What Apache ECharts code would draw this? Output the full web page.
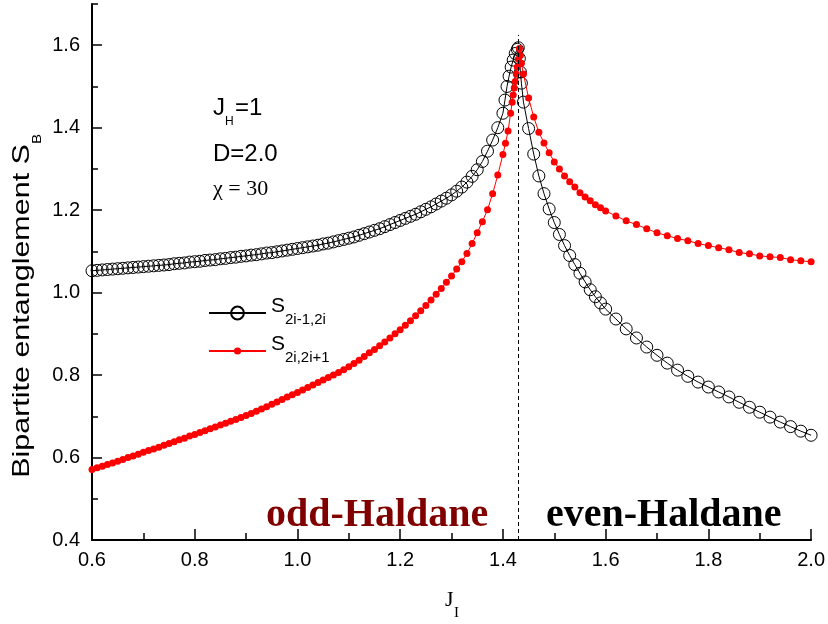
<!DOCTYPE html>
<html><head><meta charset="utf-8">
<script src="https://cdn.jsdelivr.net/npm/echarts@6/dist/echarts.min.js"></script>
<style>html,body{margin:0;padding:0;background:#fff}#c{width:828px;height:624px}</style>
</head><body><div id="c"></div>
<script>
// ---- data ----
const blackJ = [0.60,0.61,0.62,0.63,0.64,0.65,0.66,0.67,0.68,0.69,0.70,0.71,0.72,0.73,0.74,0.75,0.76,0.77,0.78,0.79,
  0.80,0.81,0.82,0.83,0.84,0.85,0.86,0.87,0.88,0.89,0.90,0.91,0.92,0.93,0.94,0.95,0.96,0.97,0.98,0.99,
  1.00,1.01,1.02,1.03,1.04,1.05,1.06,1.07,1.08,1.09,1.10,1.11,1.12,1.13,1.14,1.15,1.16,1.17,1.18,1.19,
  1.20,1.21,1.22,1.23,1.24,1.25,1.26,1.27,1.28,1.29,1.30,1.31,1.32,1.33,1.34,1.35,1.36,1.37,1.38,1.39,1.40,
  1.404,1.408,1.412,1.416,1.420,1.424,1.428,1.430,1.432,1.434,1.436,1.440,
  1.45,1.46,1.47,1.48,1.49,1.50,1.51,1.52,1.53,1.54,1.55,1.56,1.57,1.58,1.59,1.60,
  1.62,1.64,1.66,1.68,1.70,1.72,1.74,1.76,1.78,1.80,1.82,1.84,1.86,1.88,1.90,1.92,1.94,1.96,1.98,2.00];
const blackS = [1.053,1.054,1.055,1.056,1.057,1.058,1.059,1.060,1.061,1.062,1.063,1.064,1.065,1.066,1.067,1.068,1.070,1.071,1.072,1.074,
  1.075,1.076,1.078,1.079,1.080,1.082,1.083,1.085,1.086,1.088,1.089,1.091,1.092,1.094,1.096,1.097,1.099,1.101,1.103,1.105,
  1.107,1.109,1.111,1.113,1.115,1.118,1.120,1.123,1.126,1.129,1.132,1.135,1.139,1.143,1.147,1.151,1.155,1.160,1.165,1.170,
  1.175,1.180,1.185,1.190,1.196,1.202,1.208,1.215,1.222,1.229,1.237,1.246,1.256,1.268,1.282,1.298,1.318,1.343,1.370,1.400,1.435,
  1.467,1.500,1.525,1.547,1.564,1.580,1.590,1.594,1.568,1.535,1.508,1.462,
  1.398,1.336,1.283,1.240,1.203,1.170,1.141,1.114,1.090,1.068,1.047,1.026,1.007,0.990,0.975,0.960,
  0.936,0.912,0.890,0.868,0.848,0.829,0.812,0.797,0.783,0.771,0.759,0.747,0.734,0.722,0.710,0.698,0.686,0.675,0.664,0.654];
const redJ = [0.60,0.61,0.62,0.63,0.64,0.65,0.66,0.67,0.68,0.69,0.70,0.71,0.72,0.73,0.74,0.75,0.76,0.77,0.78,0.79,
  0.80,0.81,0.82,0.83,0.84,0.85,0.86,0.87,0.88,0.89,0.90,0.91,0.92,0.93,0.94,0.95,0.96,0.97,0.98,0.99,
  1.00,1.01,1.02,1.03,1.04,1.05,1.06,1.07,1.08,1.09,1.10,1.11,1.12,1.13,1.14,1.15,1.16,1.17,1.18,1.19,
  1.20,1.21,1.22,1.23,1.24,1.25,1.26,1.27,1.28,1.29,1.30,1.31,1.32,1.33,1.34,1.35,1.36,1.37,1.38,1.39,1.40,
  1.405,1.410,1.415,1.418,1.420,1.422,1.424,1.426,1.428,1.430,1.432,1.434,1.436,1.440,
  1.45,1.46,1.47,1.48,1.49,1.50,1.51,1.52,1.53,1.54,1.55,1.56,1.57,1.58,1.59,1.60,
  1.62,1.64,1.66,1.68,1.70,1.72,1.74,1.76,1.78,1.80,1.82,1.84,1.86,1.88,1.90,1.92,1.94,1.96,1.98,2.00];
const redS = [0.571,0.575,0.579,0.583,0.587,0.591,0.595,0.600,0.604,0.608,0.613,0.617,0.621,0.625,0.630,0.634,0.638,0.643,0.647,0.652,
  0.656,0.661,0.665,0.670,0.674,0.679,0.683,0.688,0.692,0.697,0.702,0.707,0.712,0.718,0.723,0.729,0.735,0.741,0.747,0.752,
  0.758,0.764,0.770,0.776,0.782,0.788,0.794,0.800,0.806,0.813,0.820,0.828,0.836,0.845,0.854,0.862,0.871,0.880,0.890,0.900,
  0.910,0.921,0.932,0.944,0.956,0.969,0.982,0.996,1.010,1.025,1.040,1.057,1.075,1.095,1.119,1.145,1.172,1.201,1.240,1.285,1.335,
  1.362,1.392,1.435,1.462,1.479,1.496,1.512,1.530,1.547,1.566,1.592,1.575,1.556,1.530,
  1.472,1.426,1.389,1.363,1.339,1.317,1.300,1.283,1.269,1.256,1.242,1.232,1.223,1.213,1.206,1.198,
  1.186,1.174,1.165,1.155,1.145,1.138,1.131,1.126,1.119,1.114,1.109,1.104,1.097,1.094,1.089,1.087,1.085,1.080,1.077,1.075];
const criticalJ = 1.43;
const dashRange = [0.4, 1.625];
const yMajorTicks = [0.4,0.6,0.8,1.0,1.2,1.4,1.6];
const yMinorTicks = [0.5,0.7,0.9,1.1,1.3,1.5,1.7];
const seriesNames = ['S2i-1,2i','S2i,2i+1'];
const legendSubs = ['2i-1,2i','2i,2i+1'];
const phaseLabels = ['odd-Haldane','even-Haldane'];

const SANS = '"Liberation Sans", Arial, sans-serif';
const SERIF = '"Liberation Serif", "Times New Roman", serif';

const chart = echarts.init(document.getElementById('c'), null, {renderer:'canvas'});

function legendRich(){
  return {
    s:{fontSize:21, fontFamily:SANS, color:'#000', lineHeight:21, padding:[0,0,13,0]},
    b:{fontSize:15, fontFamily:SANS, color:'#000', lineHeight:15, padding:[13,0,0,0]}
  };
}
function legendFmt(name){ return '{s|S}{b|' + legendSubs[seriesNames.indexOf(name)] + '}'; }

// plain text helper for graphic annotations (y = vertical middle of the em box)
function txt(x, y, text, size, family, extra){
  return Object.assign({type:'text', x:x, y:y, silent:true,
    style:Object.assign({text:text, fontSize:size, fontFamily:family, fill:'#000', align:'left', verticalAlign:'middle'}, extra||{})});
}

const option = {
  animation:false,
  backgroundColor:'#fff',
  grid:{left:92, right:14, top:4, bottom:84, containLabel:false},
  xAxis:{
    type:'value', min:0.6, max:2.0, interval:0.2,
    axisLine:{onZero:false, lineStyle:{color:'#000', width:2}},
    axisTick:{inside:true, length:11, lineStyle:{color:'#000', width:1.5}},
    minorTick:{show:true, splitNumber:2, length:7, lineStyle:{color:'#000', width:1.5}},
    axisLabel:{fontSize:20, fontFamily:SANS, color:'#000', margin:10, formatter:v=>v.toFixed(1)},
    splitLine:{show:false}
  },
  yAxis:[
    {
      type:'value', min:0.4, max:1.7, interval:0.2, position:'left',
      axisLine:{onZero:false, lineStyle:{color:'#000', width:2}},
      axisTick:{inside:true, length:10, customValues:yMajorTicks, lineStyle:{color:'#000', width:1.5}},
      axisLabel:{customValues:yMajorTicks, fontSize:20, fontFamily:SANS, color:'#000', margin:12, formatter:v=>v.toFixed(1)},
      splitLine:{show:false}
    },
    {
      type:'value', min:0.4, max:1.7, interval:0.1, position:'left',
      axisLine:{show:false},
      axisTick:{inside:true, length:6, customValues:yMinorTicks, lineStyle:{color:'#000', width:1.5}},
      axisLabel:{show:false},
      splitLine:{show:false}
    }
  ],
  legend:[
    {data:[seriesNames[0]], left:208, top:296, padding:0, itemWidth:57, itemHeight:16,
     formatter:legendFmt, textStyle:{rich:legendRich()}},
    {data:[seriesNames[1]], left:208, top:334, padding:0, itemWidth:57, itemHeight:9,
     formatter:legendFmt, textStyle:{rich:legendRich()}}
  ],
  series:[
    {
      type:'line', name:seriesNames[0], xAxisIndex:0, yAxisIndex:0,
      data: blackJ.map((j,i)=>[j, blackS[i]]),
      symbol:'circle', symbolSize:12,
      itemStyle:{color:'rgba(0,0,0,0)', borderColor:'#000', borderWidth:1},
      lineStyle:{color:'#000', width:1},
      z:2,
      markLine:{
        silent:true, symbol:'none', label:{show:false},
        lineStyle:{type:[4,3], color:'#000', width:1},
        data:[[{coord:[criticalJ, dashRange[0]]},{coord:[criticalJ, dashRange[1]]}]]
      }
    },
    {
      type:'line', name:seriesNames[1], xAxisIndex:0, yAxisIndex:0,
      data: redJ.map((j,i)=>[j, redS[i]]),
      symbol:'circle', symbolSize:7,
      itemStyle:{color:'#ff0000', borderWidth:0},
      lineStyle:{color:'#ff0000', width:1},
      z:3
    }
  ],
  graphic:[
    // y-axis title, rotated; S with subscript B
    {type:'group', x:22.7, y:306, rotation:Math.PI/2, scaleX:1.27, silent:true,
     children:[
       {type:'text', x:127.5, y:0, silent:true,
        style:{text:'Bipartite entanglement S', fontSize:24, fontFamily:SANS, fill:'#000', align:'right', verticalAlign:'middle'}},
       {type:'text', x:127.5, y:15, silent:true,
        style:{text:'B', fontSize:12, fontFamily:SANS, fill:'#000', align:'left', verticalAlign:'middle'}}
     ]},
    // x-axis title J_I
    txt(445, 600.6, 'J', 22, SERIF),
    txt(454, 613, 'I', 15, SERIF),
    // J_H = 1
    txt(213, 108.7, 'J', 24, SANS),
    txt(225, 121.4, 'H', 12, SANS),
    txt(235, 108.7, '=1', 24, SANS),
    txt(213, 154.7, 'D=2.0', 24, SANS),
    txt(213, 189.6, '\u03c7 = 30', 22, SERIF),
    txt(266, 515.5, phaseLabels[0], 40, SERIF, {fontWeight:'bold', fill:'#800000'}),
    txt(546, 515.5, phaseLabels[1], 40, SERIF, {fontWeight:'bold', fill:'#000'})
  ]
};
chart.setOption(option);
</script>
</body></html>
